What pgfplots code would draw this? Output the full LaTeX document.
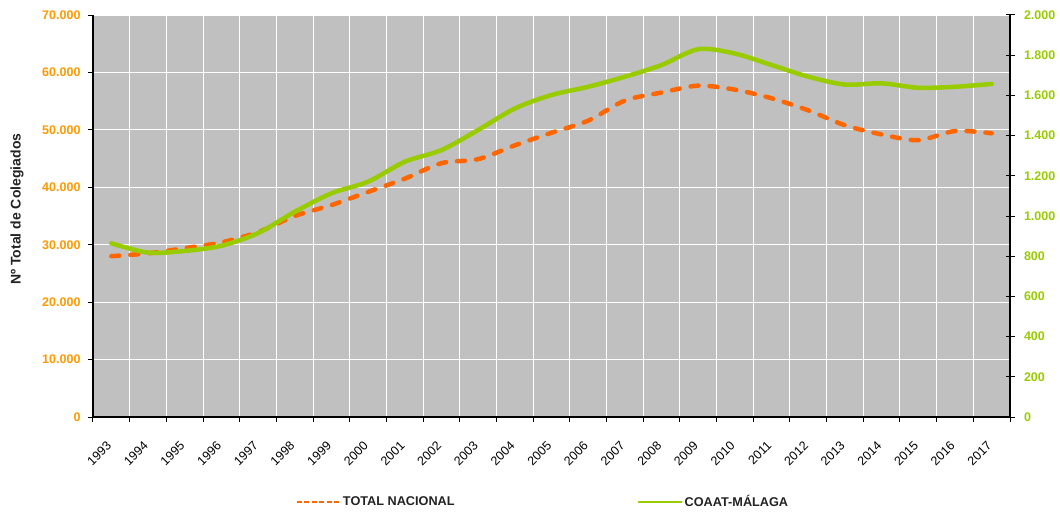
\documentclass[border=0pt]{standalone}
\usepackage{pgfplots}
\pgfplotsset{compat=1.18}
\usepackage{fontspec}
\setmainfont{Liberation Sans}
\definecolor{bggray}{HTML}{C0C0C0}
\definecolor{orline}{HTML}{FF6600}
\definecolor{ortext}{HTML}{FF9900}
\definecolor{grline}{HTML}{99CC00}
\definecolor{txt}{HTML}{222222}
\begin{document}
\begin{tikzpicture}
\useasboundingbox (-93pt,-95pt) rectangle (967pt,417pt);
\begin{axis}[
  at={(0pt,0pt)}, anchor=south west,
  scale only axis, width=917pt, height=402pt,
  xmin=-0.5, xmax=24.5, ymin=0, ymax=70000,
  scaled y ticks=false,
  axis x line*=bottom, axis y line*=left,
  axis line style={-},
  x axis line style={line width=2pt},
  y axis line style={line width=1.2pt},
  axis background/.style={fill=bggray},
  xtick={-0.5,0.5,1.5,2.5,3.5,4.5,5.5,6.5,7.5,8.5,9.5,10.5,11.5,12.5,13.5,14.5,15.5,16.5,17.5,18.5,19.5,20.5,21.5,22.5,23.5,24.5},
  x tick label as interval,
  xticklabels={1993,1994,1995,1996,1997,1998,1999,2000,2001,2002,2003,2004,2005,2006,2007,2008,2009,2010,2011,2012,2013,2014,2015,2016,2017},
  xticklabel style={xshift=-5.5pt, yshift=-13.5pt, rotate=45, anchor=north east, font=\fontsize{12.5}{14}\selectfont, text=black},
  ytick={0,10000,20000,30000,40000,50000,60000,70000},
  yticklabel style={xshift=-4pt, font=\fontsize{12.5}{14}\selectfont\bfseries, text=ortext, /pgf/number format/1000 sep={.}, /pgf/number format/assume math mode=true},
  xmajorgrids, ymajorgrids,
  major grid style={white, line width=1pt},
  tick align=outside, major tick length=5pt,
  tick style={black, line width=1pt},
  every axis y label/.style={at={(axis description cs:-0.0829,0.517)}, rotate=90, anchor=center, font=\fontsize{14}{16}\selectfont\bfseries, text=txt},
  ylabel={Nº Total de Colegiados},
]
\addplot[orline, line width=4.5pt, dash pattern=on 8pt off 11pt, line cap=round, smooth] coordinates {
(0,28000) (1,28500) (2,29400) (3,30400) (4,32200) (5,35000) (6,36900) (7,39200) (8,41500) (9,44200) (10,44900) (11,47300) (12,49500) (13,51600) (14,55100) (15,56500) (16,57700) (17,57000) (18,55500) (19,53400) (20,50800) (21,49200) (22,48200) (23,49800) (24,49400)
};
\end{axis}
\begin{axis}[
  at={(0pt,0pt)}, anchor=south west,
  scale only axis, width=917pt, height=402pt,
  xmin=-0.5, xmax=24.5, ymin=0, ymax=2000,
  scaled y ticks=false,
  axis x line=none, axis y line*=right,
  axis line style={-, line width=2pt},
  ytick={0,200,400,600,800,1000,1200,1400,1600,1800,2000},
  yticklabel style={xshift=6pt, font=\fontsize{12.5}{14}\selectfont\bfseries, text=grline, /pgf/number format/1000 sep={.}, /pgf/number format/assume math mode=true},
  tick align=center, major tick length=9pt,
  tick style={black, line width=1pt},
  legend image code/.code={\draw[#1, line width=2pt] (0pt,0pt) -- (43pt,0pt);},
  legend style={at={(0.4908,-0.2114)}, anchor=center, draw=none, fill=none,
    font=\fontsize{12.7}{14}\selectfont\bfseries, text=txt, legend columns=2,
    /tikz/every even column/.append style={column sep=181pt}},
]
\addlegendimage{orline, dash pattern=on 5pt off 2.5pt}
\addlegendentry{TOTAL NACIONAL}
\addplot[grline, line width=4.5pt, line cap=round, smooth] coordinates {
(0,864) (1,818) (2,826) (3,852) (4,915) (5,1021) (6,1113) (7,1171) (8,1270) (9,1328) (10,1428) (11,1535) (12,1602) (13,1643) (14,1693) (15,1751) (16,1830) (17,1808) (18,1751) (19,1693) (20,1654) (21,1660) (22,1638) (23,1643) (24,1657)
};
\addlegendentry{COAAT-MÁLAGA}
\end{axis}
\end{tikzpicture}
\end{document}
